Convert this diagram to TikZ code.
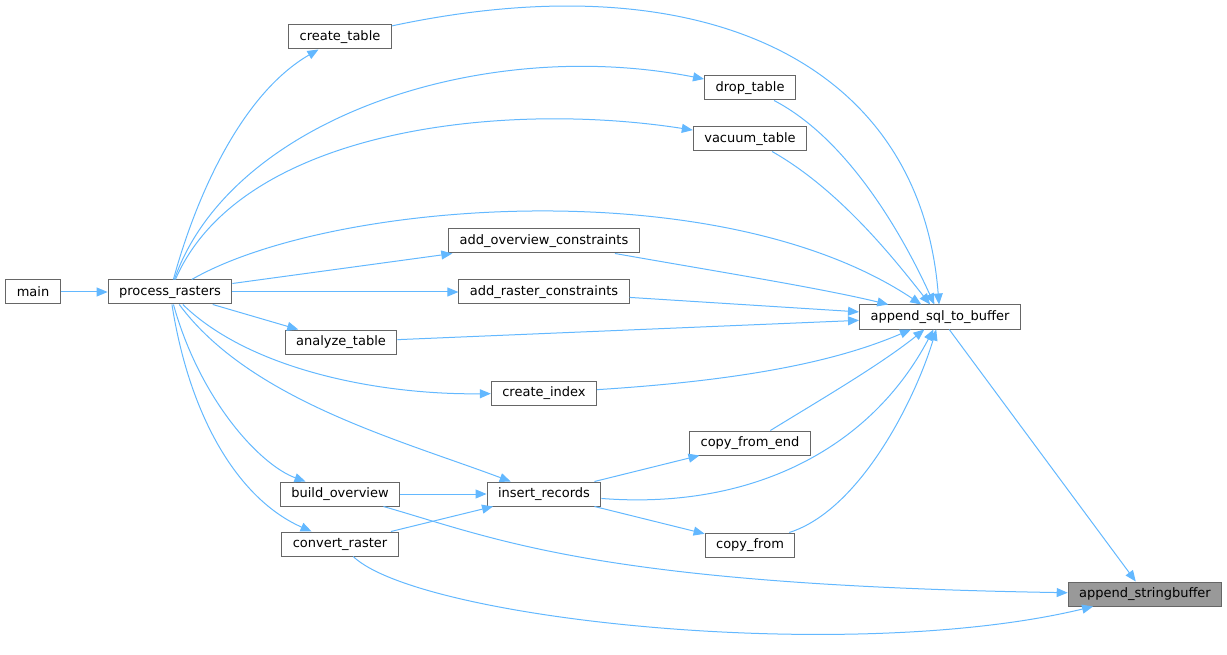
\documentclass[tikz,border=0pt]{standalone}
\usepackage{fontspec}
\setmainfont{DejaVu Sans}
\usetikzlibrary{arrows.meta}
\definecolor{edgeblue}{HTML}{63B8FF}
\definecolor{boxgray}{HTML}{666666}
\definecolor{hlgray}{HTML}{999999}
\begin{document}
\begin{tikzpicture}[x=1pt,y=-1pt,
  fn/.style={draw=boxgray,line width=1pt,fill=white,inner xsep=11pt,inner ysep=0pt,minimum height=24pt,font=\fontsize{13}{15}\selectfont},
  hl/.style={fn,fill=hlgray},
  call/.style={draw=edgeblue,line width=1pt,-{Triangle[length=11pt,width=9pt]}}]
\useasboundingbox (0,0) rectangle (1227,655);
\node[fn] (main) at (33,292) {main};
\node[fn] (pr) at (170,292) {process\_rasters};
\node[fn] (ct) at (340,37) {create\_table};
\node[fn] (dt) at (750,88) {drop\_table};
\node[fn] (vt) at (750,139) {vacuum\_table};
\node[fn] (aoc) at (544,241) {add\_overview\_constraints};
\node[fn] (arc) at (544,292) {add\_raster\_constraints};
\node[fn] (at) at (341,342) {analyze\_table};
\node[fn] (ci) at (544,393) {create\_index};
\node[fn] (cfe) at (750,443) {copy\_from\_end};
\node[fn] (ir) at (544,494) {insert\_records};
\node[fn] (bo) at (340,494) {build\_overview};
\node[fn] (cr) at (340,544) {convert\_raster};
\node[fn] (cf) at (750,545) {copy\_from};
\node[fn] (asb) at (940,317) {append\_sql\_to\_buffer};
\node[hl] (as) at (1145,594) {append\_stringbuffer};

\draw[call] (main) -- (pr);
\draw[call] (pr) .. controls (195,200) and (240,95) .. (ct);
\draw[call] (pr) .. controls (230,120) and (480,35) .. (dt);
\draw[call] (pr) .. controls (240,130) and (500,100) .. (vt);
\draw[call] (pr) .. controls (330,200) and (720,170) .. (asb);
\draw[call] (pr) -- (aoc);
\draw[call] (pr) -- (arc);
\draw[call] (pr) -- (at);
\draw[call] (pr) .. controls (250,370) and (380,395) .. (ci);
\draw[call] (pr) .. controls (250,400) and (400,440) .. (ir);
\draw[call] (pr) .. controls (200,400) and (260,465) .. (bo);
\draw[call] (pr) .. controls (190,420) and (240,500) .. (cr);
\draw[call] (ct) .. controls (700,-40) and (920,60) .. (asb);
\draw[call] (dt) .. controls (850,140) and (905,240) .. (asb);
\draw[call] (vt) .. controls (840,190) and (895,260) .. (asb);
\draw[call] (aoc) .. controls (720,272) and (820,288) .. (asb);
\draw[call] (arc) -- (asb);
\draw[call] (at) -- (asb);
\draw[call] (ci) .. controls (750,380) and (840,360) .. (asb);
\draw[call] (cfe) .. controls (820,400) and (880,365) .. (asb);
\draw[call] (ir) .. controls (750,510) and (870,450) .. (asb);
\draw[call] (cf) .. controls (860,510) and (915,400) .. (asb);
\draw[call] (ir) -- (cfe);
\draw[call] (ir) -- (cf);
\draw[call] (bo) -- (ir);
\draw[call] (cr) -- (ir);
\draw[call] (bo) .. controls (500,540) and (600,585) .. (as);
\draw[call] (cr) .. controls (420,620) and (850,665) .. (as);
\draw[call] (asb) -- (as);
\end{tikzpicture}
\end{document}
